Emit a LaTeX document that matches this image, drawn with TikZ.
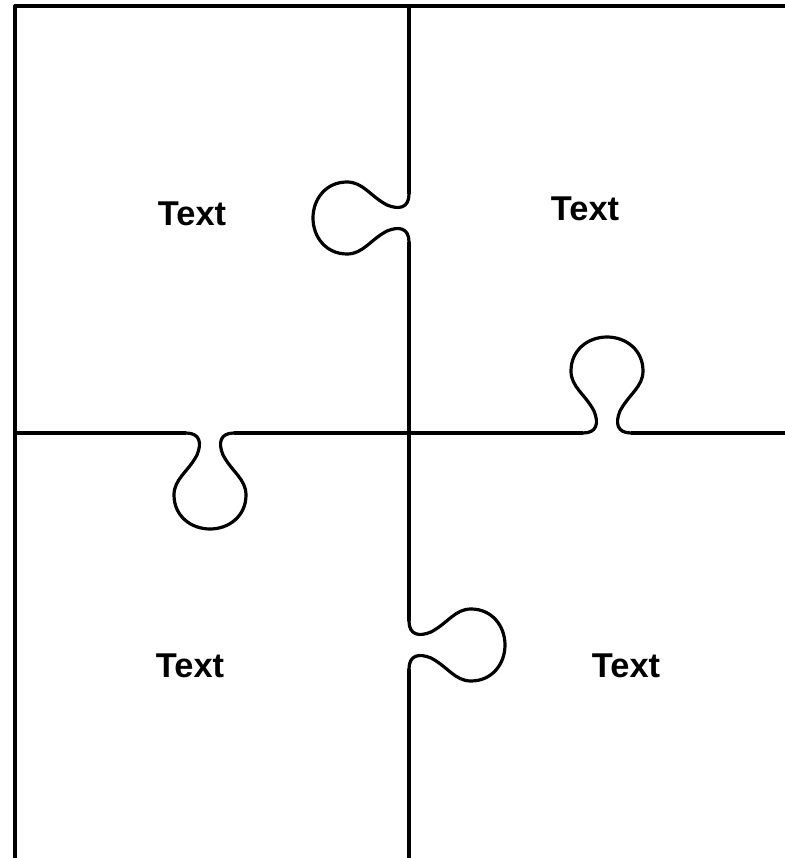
\documentclass[tikz,border=0pt]{standalone}
\usepackage{fontspec}
\setmainfont{Liberation Sans}
\usetikzlibrary{positioning}

\tikzset{
  edge/.style={line width=1.6pt, line join=round},
  label/.style={font=\fontsize{17.2}{20}\selectfont\bfseries, inner sep=0pt},
  knob/.pic={
    \draw[edge] (-24,0) .. controls (-10,0) and (-8,10) .. (-13,22)
      .. controls (-22,39) and (-36,46) .. (-36,62)
      .. controls (-36,83) and (-19,96) .. (0,96)
      .. controls (19,96) and (36,83) .. (36,62)
      .. controls (36,46) and (22,39) .. (13,22)
      .. controls (8,10) and (10,0) .. (24,0);
  }
}

\begin{document}
\begin{tikzpicture}[x=0.5pt, y=0.5pt]
    \useasboundingbox (0,0) rectangle (785,858);

    % Junctions
    \coordinate (mid) at (409,425);
    \def\kL{640}   % knob to the left, upper half
    \def\kR{213}   % knob to the right, lower half
    \def\kD{210}   % knob downwards, left half
    \def\kU{607}   % knob upwards, right half

    % Outer edges
    \draw[edge] (785,852) -- (15,852) -- (15,0);

    % Vertical cut
    \draw[edge] (409,852) -- (409,\kL+24);
    \pic[rotate=90] at (409,\kL) {knob};
    \draw[edge] (409,\kL-24) -- (409,\kR+24);
    \pic[rotate=-90] at (409,\kR) {knob};
    \draw[edge] (409,\kR-24) -- (409,0);

    % Horizontal cut
    \draw[edge] (15,425) -- (\kD-24,425);
    \pic[rotate=180] at (\kD,425) {knob};
    \draw[edge] (\kD+24,425) -- (\kU-24,425);
    \pic at (\kU,425) {knob};
    \draw[edge] (\kU+24,425) -- (785,425);

    % Labels
    \node[label] (tl) at (192,644) {Text};
    \node[label] (tr) at (585,649) {Text};
    \node[label] (bl) at (190,192) {Text};
    \node[label] (br) at (626,192) {Text};
\end{tikzpicture}
\end{document}
